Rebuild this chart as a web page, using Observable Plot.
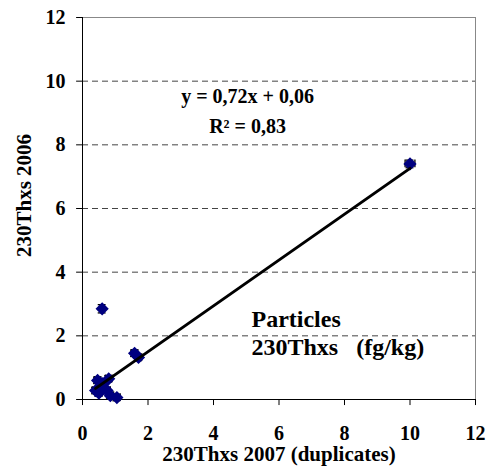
<!DOCTYPE html>
<html><head><meta charset="utf-8">
<script src="https://cdn.jsdelivr.net/npm/d3@7"></script>
<script src="https://cdn.jsdelivr.net/npm/@observablehq/plot@0.6"></script>
</head><body style="margin:0;background:#fff"><div id="chart"></div>
<script>
// Data
const xVals = [10.0, 0.6, 1.59, 1.71, 0.46, 0.8, 0.6, 0.4, 0.5, 0.65, 0.85, 1.05, 0.75];
const yVals = [7.4, 2.85, 1.45, 1.32, 0.6, 0.65, 0.5, 0.28, 0.2, 0.38, 0.12, 0.06, 0.28];
const xErr  = [0.15, 0.0, 0.1, 0.1, 0.1, 0.1, 0.1, 0.1, 0.1, 0.1, 0.1, 0.1, 0.1];
const yErr  = [0.12, 0.13, 0.1, 0.1, 0.1, 0.1, 0.1, 0.1, 0.1, 0.1, 0.1, 0.1, 0.1];
const fitX = [0.4, 10.0];
const fitY = [0.35, 7.26];
const xTicks = [0, 2, 4, 6, 8, 10, 12];
const yTicks = [0, 2, 4, 6, 8, 10, 12];
const gridTicks = [2, 4, 6, 8, 10];
const eqText = "y = 0,72x + 0,06";
const r2Text = "R² = 0,83";
const boxLines = ["Particles", "230Thxs   (fg/kg)"];

const pts = xVals.map((x, i) => ({x, y: yVals[i], ex: xErr[i], ey: yErr[i]}));
const fit = fitX.map((x, i) => ({x, y: fitY[i]}));
const cap = 0.12, capY = 0.12;
const navy = "#000080";
const ff = "'Liberation Serif', serif";
const tickLenX = 0.19, tickLenY = 0.18;

const plot = Plot.plot({
  width: 486, height: 473,
  marginLeft: 82, marginRight: 11, marginTop: 17, marginBottom: 74,
  x: {domain: [0, 12], axis: null},
  y: {domain: [0, 12], axis: null},
  style: {fontFamily: "Times New Roman, serif", background: "#fff", color: "#000"},
  marks: [
    Plot.gridY(gridTicks, {stroke: "#444", strokeOpacity: 1, strokeDasharray: "6,4"}),
    Plot.frame({stroke: "#888"}),
    // tick marks
    Plot.ruleX(xTicks, {x: d => d, y1: 0, y2: -tickLenX, stroke: "#000"}),
    Plot.ruleY(yTicks, {y: d => d, x1: 0, x2: -tickLenY, stroke: "#000"}),
    // tick labels
    Plot.text(xTicks, {x: d => d, frameAnchor: "bottom", lineAnchor: "middle", dy: 34, text: d => String(d), fontSize: 20, fontFamily: ff, fontWeight: "bold", fill: "#000"}),
    Plot.text(yTicks, {y: d => d, frameAnchor: "left", textAnchor: "end", lineAnchor: "middle", dx: -17, text: d => String(d), fontSize: 20, fontFamily: ff, fontWeight: "bold", fill: "#000"}),
    Plot.ruleX([0], {stroke: "#000"}),
    Plot.ruleY([0], {stroke: "#000"}),
    // error bars
    Plot.ruleX(pts.filter(d => d.ey > 0), {x: "x", y1: d => d.y - d.ey, y2: d => d.y + d.ey, stroke: "#000", strokeWidth: 1.3}),
    Plot.ruleY(pts.filter(d => d.ey > 0), {y: d => d.y - d.ey, x1: d => d.x - cap, x2: d => d.x + cap, stroke: "#000", strokeWidth: 1.3}),
    Plot.ruleY(pts.filter(d => d.ey > 0), {y: d => d.y + d.ey, x1: d => d.x - cap, x2: d => d.x + cap, stroke: "#000", strokeWidth: 1.3}),
    Plot.ruleY(pts.filter(d => d.ex > 0), {y: "y", x1: d => d.x - d.ex, x2: d => d.x + d.ex, stroke: "#000", strokeWidth: 1.3}),
    Plot.ruleX(pts.filter(d => d.ex > 0), {x: d => d.x - d.ex, y1: d => d.y - capY, y2: d => d.y + capY, stroke: "#000", strokeWidth: 1.3}),
    Plot.ruleX(pts.filter(d => d.ex > 0), {x: d => d.x + d.ex, y1: d => d.y - capY, y2: d => d.y + capY, stroke: "#000", strokeWidth: 1.3}),
    Plot.dot(pts, {x: "x", y: "y", symbol: "diamond2", r: 5, fill: navy, stroke: navy}),
    Plot.line(fit, {x: "x", y: "y", stroke: "#000", strokeWidth: 3}),
    Plot.text([eqText], {x: 5.04, y: 9.53, text: d => d, fontSize: 20, fontFamily: ff, fontWeight: "bold", fill: "#000"}),
    Plot.text([r2Text], {x: 5.04, y: 8.58, text: d => d, fontSize: 20, fontFamily: ff, fontWeight: "bold", fill: "#000"}),
    Plot.text([boxLines[0]], {x: 5.16, y: 2.52, text: d => d, textAnchor: "start", fontSize: 24, fontFamily: ff, fontWeight: "bold", fill: "#000"}),
    Plot.text([boxLines[1]], {x: 5.16, y: 1.64, text: d => d, textAnchor: "start", fontSize: 24, fontFamily: ff, fontWeight: "bold", fill: "#000"}),
    Plot.text(["230Thxs 2007 (duplicates)"], {frameAnchor: "bottom", lineAnchor: "middle", dy: 55, text: d => d, fontSize: 21, fontFamily: ff, fontWeight: "bold", fill: "#000"}),
    Plot.text(["230Thxs 2006"], {frameAnchor: "left", textAnchor: "middle", lineAnchor: "middle", dx: -58, dy: -13, rotate: -90, text: d => d, fontSize: 21, fontFamily: ff, fontWeight: "bold", fill: "#000"})
  ]
});
document.getElementById("chart").appendChild(plot);
</script>
</body></html>
